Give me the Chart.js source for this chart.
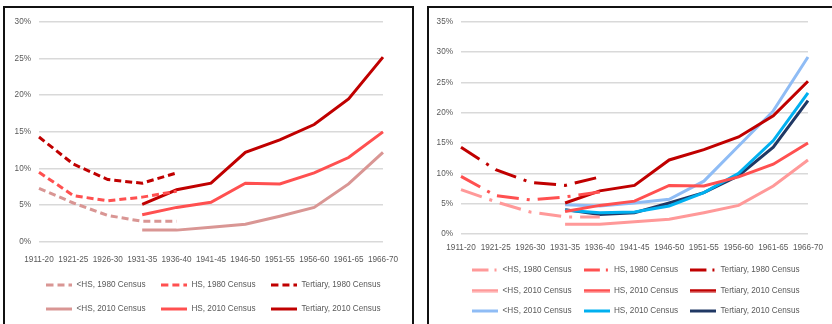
<!DOCTYPE html>
<html>
<head>
<meta charset="utf-8">
<script src="https://cdn.jsdelivr.net/npm/chart.js@4.4.1/dist/chart.umd.min.js"></script>
<style>
  html, body { margin: 0; padding: 0; background: #fff; width: 832px; height: 324px; overflow: hidden; }
  .box { position: absolute; border: 2px solid #111; border-bottom: none; background: #fff; }
  canvas { position: absolute; }
</style>
</head>
<body>
<div class="box" style="left:3px; top:6px; width:407px; height:330px;"></div>
<div class="box" style="left:427px; top:6px; width:410px; height:330px;"></div>
<canvas id="left" width="405" height="315" style="left:6px; top:9px;"></canvas>
<canvas id="right" width="402" height="317" style="left:430px; top:9px;"></canvas>
<script>
// ---------- data ----------
const categories = ['1911-20','1921-25','1926-30','1931-35','1936-40','1941-45','1946-50','1951-55','1956-60','1961-65','1966-70'];

const lessHS1980   = [7.3, 5.3, 3.6, 2.8, 2.8, null, null, null, null, null, null];
const hs1980       = [9.5, 6.3, 5.6, 6.1, 6.9, null, null, null, null, null, null];
const tertiary1980 = [14.3, 10.6, 8.5, 8.0, 9.4, null, null, null, null, null, null];

const lessHS2010   = [null, null, null, 1.6, 1.6, 2.0, 2.4, 3.5, 4.7, 7.9, 12.2];
const hs2010       = [null, null, null, 3.7, 4.7, 5.4, 8.0, 7.9, 9.4, 11.5, 15.0];
const tertiary2010 = [null, null, null, 5.1, 7.1, 8.0, 12.2, 13.9, 16.0, 19.5, 25.2];

const lessHS2010b   = [null, null, null, 4.8, 4.6, 5.1, 5.7, 8.7, 14.5, 20.3, 29.2];
const hs2010b       = [null, null, null, 3.9, 3.5, 3.6, 4.6, 6.8, 10.0, 15.4, 23.3];
const tertiary2010b = [null, null, null, 4.0, 3.2, 3.5, 5.1, 6.8, 9.6, 14.3, 22.0];

const seriesLabels = ['<HS, 1980 Census', 'HS, 1980 Census', 'Tertiary, 1980 Census',
                      '<HS, 2010 Census', 'HS, 2010 Census', 'Tertiary, 2010 Census'];
const leftTicks = [0, 5, 10, 15, 20, 25, 30];
const rightTicks = [0, 5, 10, 15, 20, 25, 30, 35];

// ---------- styling ----------
const FONT = "'Liberation Sans', Arial, sans-serif";
const FS = 8.2;
const TXT = '#595959';
const GRID = '#d9d9d9';

function legendSample(color, dash, width) {
  const c = document.createElement('canvas');
  c.width = 26; c.height = 4;
  const g = c.getContext('2d');
  g.strokeStyle = color;
  g.lineWidth = width;
  g.lineCap = 'butt';
  g.setLineDash(dash);
  g.beginPath(); g.moveTo(0, 2); g.lineTo(26, 2); g.stroke();
  return c;
}

function ds(label, data, color, dash, legendDash) {
  return {
    label, data,
    borderColor: color, backgroundColor: color,
    borderWidth: 3,
    borderDash: dash || [],
    borderCapStyle: 'butt',
    pointRadius: 0, pointHoverRadius: 0,
    pointStyle: legendSample(color, legendDash || dash || [], 3),
    tension: 0, spanGaps: false, fill: false
  };
}

function legendShift(dx) {
  return {
    id: 'legendShift',
    afterLayout(chart) {
      if (chart.legend) { chart.legend.left += dx; chart.legend.right += dx; }
    }
  };
}

function makeOptions(cfg) {
  return {
    responsive: false,
    devicePixelRatio: 1,
    animation: false,
    layout: { padding: { left: 0, right: cfg.padRight, top: cfg.padTop, bottom: cfg.padBottom } },
    plugins: {
      tooltip: { enabled: false },
      legend: {
        position: 'bottom',
        labels: {
          usePointStyle: true,
          pointStyleWidth: 26,
          color: TXT,
          padding: cfg.legendPad,
          font: { family: FONT, size: FS }
        }
      }
    },
    scales: {
      x: {
        afterFit: (scale) => { scale.height = cfg.xHeight; },
        grid: { display: false, drawTicks: false },
        border: { display: false },
        ticks: { color: TXT, font: { family: FONT, size: FS }, padding: cfg.xPad, maxRotation: 0, autoSkip: false }
      },
      y: {
        min: 0, max: cfg.max,
        afterBuildTicks: (scale) => { scale.ticks = cfg.ticks.map(v => ({ value: v })); },
        afterFit: (scale) => { scale.width = cfg.yWidth; },
        grid: { color: GRID, lineWidth: 1.5, drawTicks: false },
        border: { display: false },
        ticks: { color: TXT, font: { family: FONT, size: FS }, padding: 8, callback: v => v + '%' }
      }
    }
  };
}

new Chart(document.getElementById('left'), {
  type: 'line',
  data: {
    labels: categories,
    datasets: [
      ds(seriesLabels[0], lessHS1980, '#d99694', [7, 4]),
      ds(seriesLabels[1], hs1980, '#ff5050', [7, 4]),
      ds(seriesLabels[2], tertiary1980, '#c00000', [7, 4]),
      ds(seriesLabels[3], lessHS2010, '#d99694'),
      ds(seriesLabels[4], hs2010, '#ff5050'),
      ds(seriesLabels[5], tertiary2010, '#c00000')
    ]
  },
  options: makeOptions({ max: 30, ticks: leftTicks, yWidth: 33, legendPad: 15.8, padBottom: 0.9, padTop: 11.5, padRight: 6, xPad: 13, xHeight: 23.25 }),
  plugins: [legendShift(8)]
});

const dashDot = [22, 8, 3, 8];
const dashDotLegend = [16, 6, 2, 6];
new Chart(document.getElementById('right'), {
  type: 'line',
  data: {
    labels: categories,
    datasets: [
      ds(seriesLabels[0], lessHS1980, '#ff9999', dashDot, dashDotLegend),
      ds(seriesLabels[1], hs1980, '#ff5050', dashDot, dashDotLegend),
      ds(seriesLabels[2], tertiary1980, '#c00000', dashDot, dashDotLegend),
      ds(seriesLabels[3], lessHS2010, '#ff9999'),
      ds(seriesLabels[4], hs2010, '#ff5050'),
      ds(seriesLabels[5], tertiary2010, '#c00000'),
      ds(seriesLabels[3], lessHS2010b, '#8fbcf5'),
      ds(seriesLabels[4], hs2010b, '#00b0f0'),
      ds(seriesLabels[5], tertiary2010b, '#203864')
    ]
  },
  options: makeOptions({ max: 35, ticks: rightTicks, yWidth: 31, legendPad: 12.3, padBottom: 0.9, padTop: 8, padRight: 5, xPad: 9, xHeight: 19.75 }),
  plugins: [legendShift(7.5)]
});
</script>
</body>
</html>
